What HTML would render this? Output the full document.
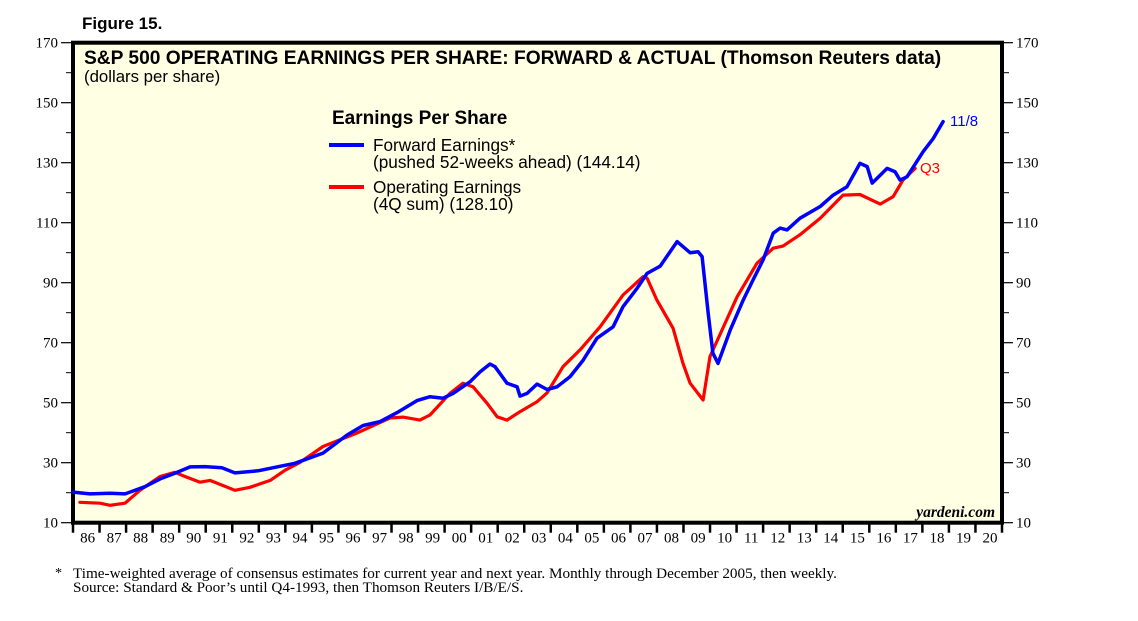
<!DOCTYPE html>
<html><head><meta charset="utf-8"><style>
html,body{margin:0;padding:0;background:#fff;}
svg{display:block;}
</style></head><body>
<svg id="chart" width="1138" height="621" viewBox="0 0 1138 621" xmlns="http://www.w3.org/2000/svg">
<rect x="0" y="0" width="1138" height="621" fill="#fff"/>
<text x="82" y="29" font-family="Liberation Sans, sans-serif" font-weight="bold" font-size="17" fill="#000">Figure 15.</text>
<rect x="73" y="42.7" width="929" height="480" fill="#ffffe4" stroke="#000" stroke-width="4"/>
<g id="axes"></g>
<g id="series"></g>
<text x="84" y="64" font-family="Liberation Sans, sans-serif" font-weight="bold" font-size="19.2" fill="#000">S&amp;P 500 OPERATING EARNINGS PER SHARE: FORWARD &amp; ACTUAL (Thomson Reuters data)</text>
<text x="84" y="82" font-family="Liberation Sans, sans-serif" font-size="16.8" fill="#000">(dollars per share)</text>
<g font-family="Liberation Sans, sans-serif" fill="#000">
<text x="332" y="124" font-weight="bold" font-size="19">Earnings Per Share</text>
<line x1="329" y1="145" x2="364" y2="145" stroke="#0000ff" stroke-width="4"/>
<text x="373" y="151" font-size="17.2">Forward Earnings*</text>
<text x="373" y="168" font-size="17.2">(pushed 52-weeks ahead) (144.14)</text>
<line x1="329" y1="187" x2="364" y2="187" stroke="#ff0000" stroke-width="4"/>
<text x="373" y="193" font-size="17.2">Operating Earnings</text>
<text x="373" y="210" font-size="17.2">(4Q sum) (128.10)</text>
</g>
<text x="950" y="126" font-family="Liberation Sans, sans-serif" font-size="15" fill="#0000ff">11/8</text>
<text x="920" y="173" font-family="Liberation Sans, sans-serif" font-size="15" fill="#ff0000">Q3</text>
<text x="995" y="517" text-anchor="end" font-family="Liberation Serif, serif" font-style="italic" font-weight="bold" font-size="15.5" fill="#000">yardeni.com</text>
<text x="55" y="577" font-family="Liberation Serif, serif" font-size="14" fill="#000">*</text>
<text x="73" y="578" font-family="Liberation Serif, serif" font-size="15.2" fill="#000">Time-weighted average of consensus estimates for current year and next year. Monthly through December 2005, then weekly.</text>
<text x="73" y="592" font-family="Liberation Serif, serif" font-size="15.2" fill="#000">Source: Standard &amp; Poor’s until Q4-1993, then Thomson Reuters I/B/E/S.</text>
</svg>
<script>
const yTicks = [10,30,50,70,90,110,130,150,170];
const yMinor = [20,40,60,80,100,120,140,160];
const yearLabels = ["86","87","88","89","90","91","92","93","94","95","96","97","98","99","00","01","02","03","04","05","06","07","08","09","10","11","12","13","14","15","16","17","18","19","20"];
const fwdDates = [1986.00,1986.64,1987.39,1987.96,1988.71,1989.28,1989.84,1990.41,1990.97,1991.61,1992.10,1992.97,1993.80,1994.36,1995.42,1996.32,1996.93,1997.57,1998.21,1998.96,1999.45,1999.94,2000.32,2000.96,2001.34,2001.71,2001.90,2002.35,2002.73,2002.84,2003.11,2003.48,2003.86,2004.24,2004.73,2005.22,2005.74,2006.35,2006.72,2007.25,2007.63,2008.12,2008.76,2009.25,2009.55,2009.70,2009.93,2010.11,2010.30,2010.76,2011.25,2011.62,2012.00,2012.38,2012.64,2012.90,2013.39,2014.15,2014.64,2015.16,2015.65,2015.92,2016.11,2016.67,2016.97,2017.16,2017.42,2018.03,2018.41,2018.78];
const fwdValues = [20.2,19.6,19.8,19.6,22.0,24.6,26.5,28.6,28.7,28.3,26.6,27.3,28.8,29.8,33.2,39.2,42.4,43.7,46.7,50.7,52.0,51.5,53.1,57.0,60.3,62.9,62.0,56.5,55.3,52.2,53.1,56.2,54.4,55.3,58.7,64.2,71.5,75.3,82.0,88.1,93.1,95.5,103.7,100.0,100.3,98.7,79.8,66.5,63.1,74.2,84.2,90.9,97.6,106.5,108.2,107.6,111.5,115.4,119.2,122.0,129.8,128.7,123.2,128.1,127.0,124.2,125.3,133.7,138.1,143.7];
const opDates = [1986.26,1987.02,1987.39,1987.96,1988.52,1989.28,1989.84,1990.22,1990.79,1991.16,1991.73,1992.10,1992.67,1993.43,1993.99,1994.55,1995.42,1996.70,1997.94,1998.43,1999.07,1999.45,2000.20,2000.69,2001.07,2001.60,2001.98,2002.35,2002.84,2003.48,2003.86,2004.46,2005.10,2005.86,2006.72,2007.48,2007.63,2008.00,2008.61,2008.98,2009.25,2009.74,2010.00,2011.02,2011.77,2012.38,2012.75,2013.39,2014.15,2015.01,2015.65,2016.41,2016.90,2017.27,2017.73];
const opValues = [16.8,16.5,15.8,16.5,20.8,25.4,26.8,25.4,23.5,24.1,22.1,20.8,21.8,24.1,27.5,30.1,35.4,39.9,44.9,45.2,44.2,45.9,53.1,56.5,55.3,49.8,45.3,44.2,47.0,50.3,53.3,62.0,67.6,75.3,85.9,92.0,91.5,84.2,74.8,63.1,56.5,50.9,65.4,85.3,96.5,101.5,102.2,106.0,111.5,119.2,119.4,116.2,118.7,124.2,128.1];

const NS = "http://www.w3.org/2000/svg";
const X0 = 73, X1 = 1002, Y0 = 522.7, Y1 = 42.7;
function xScale(yr){ return X0 + (yr - 1986) * (X1 - X0) / 35; }
function yScale(v){ return Y0 - (v - 10) * (Y0 - Y1) / 160; }
function mk(tag, attrs, parent){ const e = document.createElementNS(NS, tag); for (const k in attrs) e.setAttribute(k, attrs[k]); parent.appendChild(e); return e; }
const axes = document.getElementById('axes');
yTicks.forEach(v => {
  const y = yScale(v);
  const l = mk('line', {x1:61, x2:X0, y1:y, y2:y, stroke:'#000', 'stroke-width':1.2}, axes);
  
  
  const r = mk('line', {x1:X1, x2:1013, y1:y, y2:y, stroke:'#000', 'stroke-width':1.2}, axes);
  
  
  const t = mk('text', {x:58, y:y+5, 'text-anchor':'end', 'font-family':'Liberation Serif, serif', 'font-size':15, fill:'#000'}, axes);
  t.textContent = v;
  
  
  const t2 = mk('text', {x:1016, y:y+5, 'font-family':'Liberation Serif, serif', 'font-size':15, fill:'#000'}, axes);
  t2.textContent = v;
  
  
});
yMinor.forEach(v => {
  const y = yScale(v);
  const l = mk('line', {x1:66, x2:X0, y1:y, y2:y, stroke:'#000', 'stroke-width':1}, axes);
  
  
  const r = mk('line', {x1:X1, x2:1009, y1:y, y2:y, stroke:'#000', 'stroke-width':1}, axes);
  
  
});
yearLabels.forEach((lab, i) => {
  const xs = xScale(1986 + i);
  const tk = mk('line', {x1:xs, x2:xs, y1:Y0, y2:Y0+10, stroke:'#000', 'stroke-width':2.5}, axes);
  
  
  const t = mk('text', {x:xScale(1986 + i + 0.55), y:Y0+20, 'text-anchor':'middle', 'font-family':'Liberation Serif, serif', 'font-size':15, fill:'#000'}, axes);
  t.textContent = lab;
  
  
});
const lastTick = mk('line', {x1:X1, x2:X1, y1:Y0, y2:Y0+10, stroke:'#000', 'stroke-width':2.5}, axes);



const series = document.getElementById('series');
function pathFor(dates, vals){ return dates.map((d,i)=>(i?'L':'M')+xScale(d).toFixed(1)+','+yScale(vals[i]).toFixed(1)).join(' '); }
const op = mk('path', {d:pathFor(opDates, opValues), fill:'none', stroke:'#ff0000', 'stroke-width':3.2, 'stroke-linejoin':'round', 'stroke-linecap':'round'}, series);


const fw = mk('path', {d:pathFor(fwdDates, fwdValues), fill:'none', stroke:'#0000ff', 'stroke-width':3.5, 'stroke-linejoin':'round', 'stroke-linecap':'round'}, series);


</script>
</body></html>
